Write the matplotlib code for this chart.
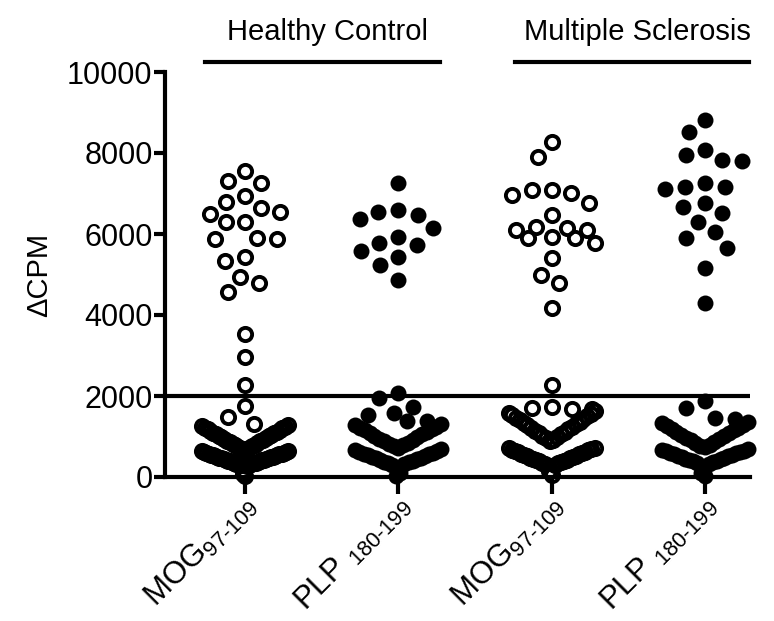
import matplotlib
matplotlib.use("Agg")
import matplotlib.pyplot as plt
import numpy as np

plt.rcParams['font.family'] = ['Liberation Sans', 'DejaVu Sans']
plt.rcParams['mathtext.fontset'] = 'custom'
plt.rcParams['mathtext.rm'] = 'Liberation Sans'
plt.rcParams['mathtext.it'] = 'Liberation Sans:italic'
plt.rcParams['mathtext.bf'] = 'Liberation Sans:bold'

# ---------------- data ----------------
group_names = ["Healthy Control", "Multiple Sclerosis"]
tick_labels = ["MOG$_{97\\text{-}109}$", "PLP $_{180\\text{-}199}$",
               "MOG$_{97\\text{-}109}$", "PLP $_{180\\text{-}199}$"]
filled = [False, True, False, True]
threshold = 2000

hc_mog = [7550, 7300, 7250, 6950, 6800, 6650, 6550, 6500, 6300, 6300, 5900, 5880,
          5880, 5420, 5330, 4940, 4780, 4560, 3530, 2960, 2270, 1750, 1480, 1310,
          1290, 1268, 1242, 1221, 1199, 1178, 1160, 1139, 1117, 1098, 1079, 1060, 1037,
          1018, 1001, 979, 958, 940, 921, 899, 880, 858, 839, 822, 801, 778, 760,
          741, 719, 703, 681, 662,
          640, 631, 622, 611, 600, 590, 580, 571, 561, 552, 542, 533, 523, 514, 504,
          495, 486, 476, 467, 457, 448, 439, 429, 420, 411, 401, 392, 383, 373, 364,
          355, 346, 336, 327, 317, 309, 299, 290, 280, 70, 15]
hc_plp = [7260, 6590, 6545, 6470, 6370, 6150, 5925, 5780, 5730, 5580, 5430, 5235, 4865,
          2075, 1950, 1730, 1580, 1530, 1380, 1380,
          1310, 1280, 1245, 1210, 1180, 1150, 1115, 1080, 1050, 1015, 985, 950, 920,
          885, 850, 820, 785, 755, 720,
          680, 660, 640, 620, 600, 580, 560, 540, 520, 500, 480, 460, 440, 420, 400,
          380, 360, 340, 320, 300, 90, 20]
ms_mog = [8270, 7900, 7085, 7085, 7010, 6960, 6765, 6470, 6170, 6150, 6100, 6100, 5925,
          5900, 5900, 5780, 5410, 4990, 4790, 4170, 2270,
          1720, 1700, 1690, 1680,
          1620, 1589, 1557, 1526, 1494, 1463, 1431, 1399, 1368, 1336, 1305, 1273, 1241,
          1210, 1178, 1146, 1115, 1083, 1051, 1020, 988, 957, 925, 893,
          720, 704, 688, 672, 656, 640, 624, 608, 592, 576, 560, 544, 528, 512, 496,
          480, 464, 448, 432, 416, 400, 384, 368, 352, 336, 320, 304, 150, 60]
ms_plp = [8815, 8520, 8075, 7950, 7830, 7800, 7260, 7160, 7160, 7110, 6765, 6670, 6520,
          6300, 6050, 5900, 5655, 5160, 4300,
          1880, 1700, 1460, 1430,
          1360, 1325, 1290, 1255, 1220, 1185, 1150, 1115, 1080, 1045, 1010, 975, 940,
          905, 870, 835, 800, 765, 730,
          690, 672, 654, 636, 618, 600, 582, 564, 546, 528, 510, 492, 474, 456, 438,
          420, 402, 384, 366, 348, 330, 110, 30]
series = [hc_mog, hc_plp, ms_mog, ms_plp]
cluster_cut = [1300, 1350, 1650, 1400]     # values below are packed in dense rows
cluster_bin = [650, 700, 870, 700]

# ---------------- layout helpers (GraphPad-like column scatter) ----------------
PX_X = 153.3            # pixels per category unit
PX_Y = 405 / 10000      # pixels per data unit
HALF = 0.28             # max half-width of a column (category units)
STEP = 0.11             # preferred spacing between neighbours in a row


def v_slots(n, s):
    if n % 2 == 1:
        slots, k = [0.0], 1
    else:
        slots, k = [], 0.5
    while len(slots) < n:
        slots += [-k * s, k * s]
        k += 1
    return slots[:n]


def row_offsets(v, bin_size):
    off = np.zeros_like(v)
    bins = np.floor(v / bin_size).astype(int)
    for b in np.unique(bins):
        idx = np.where(bins == b)[0]
        idx = idx[np.argsort(v[idx], kind='stable')]
        n = len(idx)
        if n == 1:
            continue
        s = min(STEP, 2 * HALF / (n - 1))
        slots = v_slots(n, s)
        for j, i in enumerate(idx):
            off[i] = slots[j]
    return off


def swarm_offsets(v, d=20.0):
    off = np.zeros_like(v)
    placed = []
    cap = HALF * PX_X
    for i in np.argsort(-v, kind='stable'):
        y = v[i] * PX_Y
        cands = [0.0]
        for px, py in placed:
            dy = y - py
            if abs(dy) < d:
                dx = np.sqrt(d * d - dy * dy)
                cands += [px - dx, px + dx]
        cands = [c for c in cands if abs(c) <= cap + 1e-9]
        cands.sort(key=lambda c: (abs(c), c))
        chosen = None
        for c in cands:
            if all((c - px) ** 2 + (y - py) ** 2 >= d * d - 1e-6 for px, py in placed):
                chosen = c
                break
        if chosen is None:
            grid = np.linspace(-cap, cap, 41)
            score = [min((g - px) ** 2 + (y - py) ** 2 for px, py in placed) for g in grid]
            chosen = grid[int(np.argmax(score))]
        placed.append((chosen, y))
        off[i] = chosen / PX_X
    return off


def layout(values, cut, bin_size):
    v = np.asarray(values, dtype=float)
    off = np.zeros_like(v)
    low = v < cut
    off[low] = row_offsets(v[low], bin_size)
    off[~low] = swarm_offsets(v[~low])
    return off

# ---------------- figure ----------------
fig = plt.figure(figsize=(7.74, 6.21), dpi=100)
ax = fig.add_axes([165 / 774, 144 / 621, (750 - 165) / 774, (477 - 72) / 621])
ax.set_xlim(-0.522, 3.294)
ax.set_ylim(0, 10000)

for i, vals in enumerate(series):
    xs = i + layout(vals, cluster_cut[i], cluster_bin[i])
    if filled[i]:
        ax.plot(xs, vals, 'o', ms=11.5, mfc='black', mec='black', mew=0,
                clip_on=False, zorder=3)
    else:
        ax.plot(xs, vals, 'o', ms=9.5, mfc='none', mec='black', mew=2.8,
                clip_on=False, zorder=3)

ax.axhline(threshold, color='black', lw=3, zorder=2)

for sp in ['top', 'right']:
    ax.spines[sp].set_visible(False)
for sp in ['left', 'bottom']:
    ax.spines[sp].set_linewidth(3)

ax.set_yticks([0, 2000, 4000, 6000, 8000, 10000])
ax.set_yticklabels(['0', '2000', '4000', '6000', '8000', '10000'])
ax.tick_params(axis='y', length=8, width=3, labelsize=22, pad=1)
ax.set_xticks([0, 1, 2, 3])
ax.set_xticklabels([])
ax.tick_params(axis='x', length=12, width=3)

for i, lab in enumerate(tick_labels):
    ax.annotate(lab, xy=(i, 0), xycoords=('data', 'axes fraction'),
                xytext=(5, -17), textcoords='offset points',
                rotation=45, rotation_mode='anchor', ha='right', va='center',
                fontsize=22.5)

ax.set_ylabel('ΔCPM', fontsize=21, labelpad=10)

# group bars and titles
ax.plot([-0.26, 1.27], [10250, 10250], color='black', lw=3, clip_on=False)
ax.plot([1.76, 3.29], [10250, 10250], color='black', lw=3, clip_on=False)
ax.text(0.535, 10790, group_names[0], ha='center', va='baseline', fontsize=21)
ax.text(2.557, 10790, group_names[1], ha='center', va='baseline', fontsize=21)

fig.savefig('out.png', dpi=100)
